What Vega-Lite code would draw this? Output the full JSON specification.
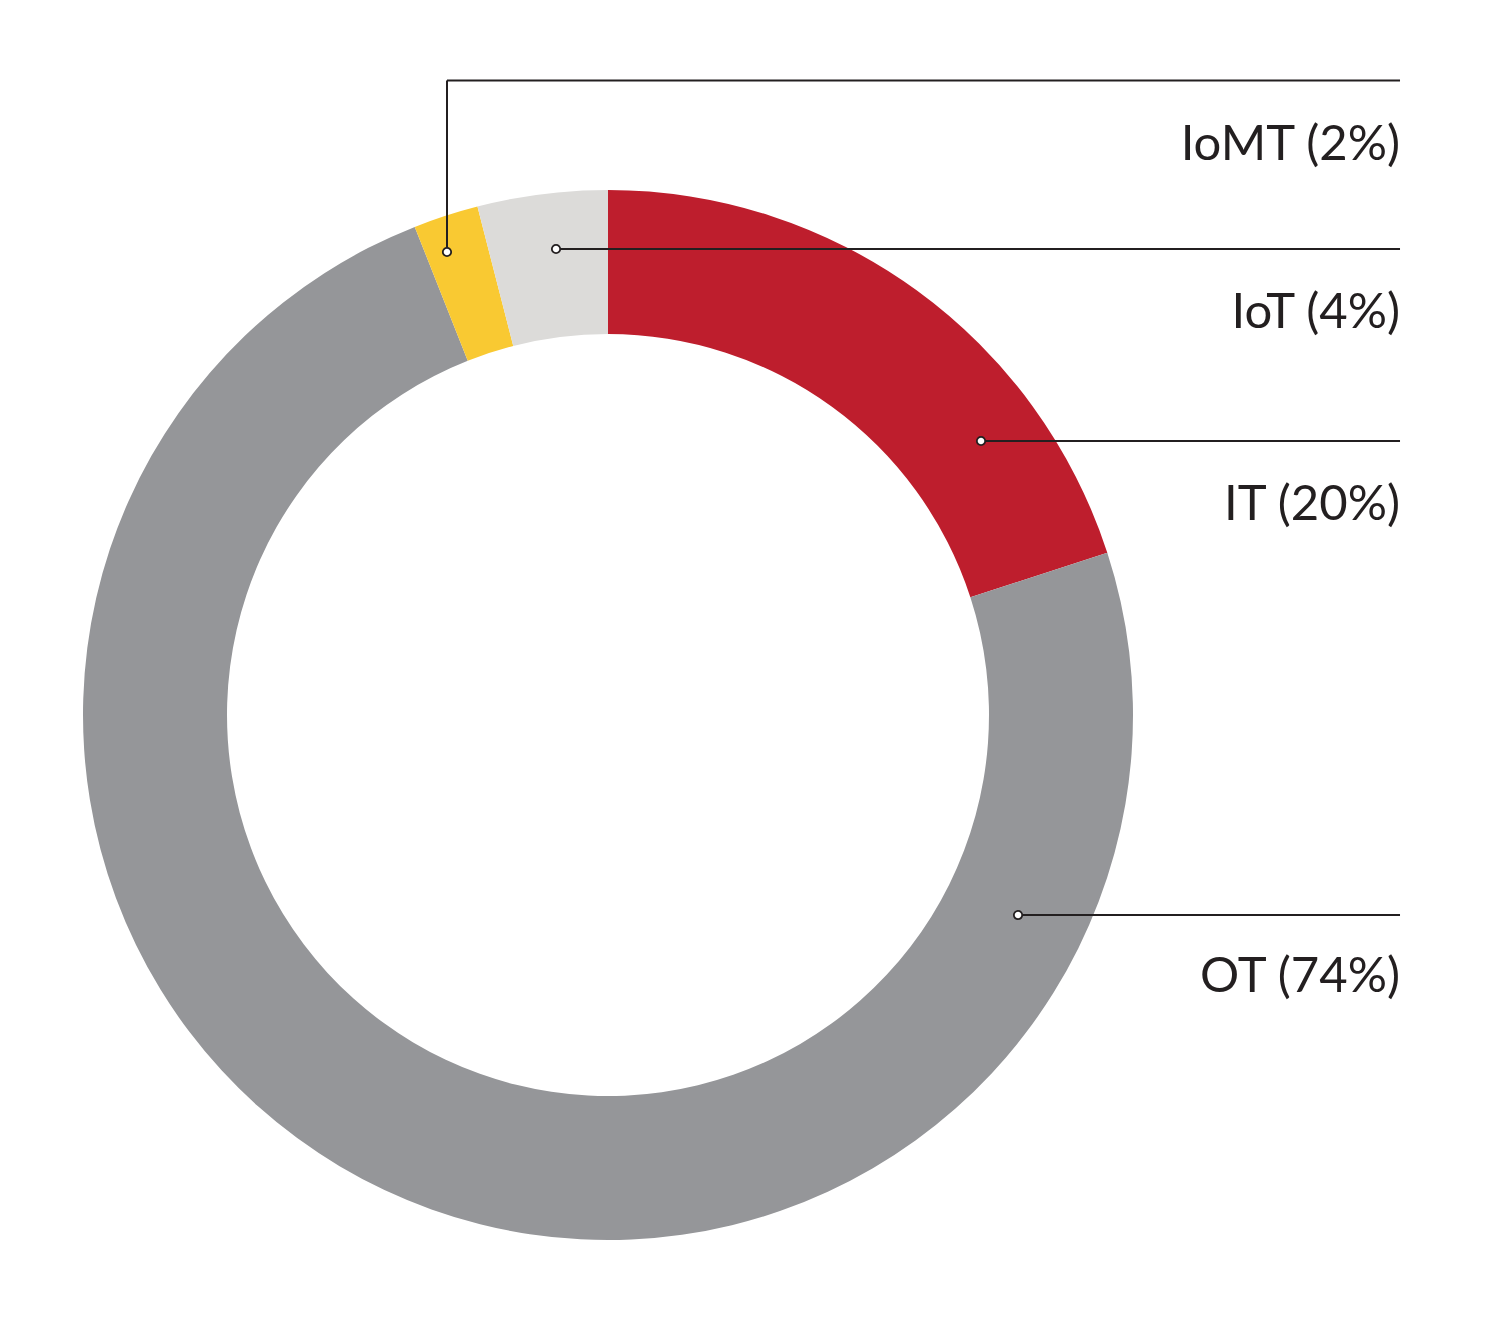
{
  "$schema": "https://vega.github.io/schema/vega-lite/v6.json",
  "width": 1490,
  "height": 1332,
  "autosize": {"type": "none"},
  "padding": 0,
  "background": "#ffffff",
  "config": {"view": {"stroke": null}},
  "datasets": {
    "slices": [
      {"segment": "IT", "share": 20, "rank": 1},
      {"segment": "OT", "share": 74, "rank": 2},
      {"segment": "IoMT", "share": 2, "rank": 3},
      {"segment": "IoT", "share": 4, "rank": 4}
    ],
    "leaders": [
      {"segment": "IoMT", "x": -0.3067, "y": 0.8819, "x2": -0.3067, "y2": 1.2086},
      {"segment": "IoMT", "x": -0.3067, "y": 1.2086, "x2": 1.5086, "y2": 1.2086},
      {"segment": "IoT", "x": -0.099, "y": 0.8876, "x2": 1.5086, "y2": 0.8876},
      {"segment": "IT", "x": 0.7105, "y": 0.5219, "x2": 1.5086, "y2": 0.5219},
      {"segment": "OT", "x": 0.781, "y": -0.381, "x2": 1.5086, "y2": -0.381}
    ],
    "anchors": [
      {"segment": "IoMT", "x": -0.3067, "y": 0.8819},
      {"segment": "IoT", "x": -0.099, "y": 0.8876},
      {"segment": "IT", "x": 0.7105, "y": 0.5219},
      {"segment": "OT", "x": 0.781, "y": -0.381}
    ],
    "labels": [
      {"label": "IoMT (2%)", "x": 1.5086, "y": 1.0571},
      {"label": "IoT (4%)", "x": 1.5086, "y": 0.7371},
      {"label": "IT (20%)", "x": 1.5086, "y": 0.3714},
      {"label": "OT (74%)", "x": 1.5086, "y": -0.5276}
    ]
  },
  "layer": [
    {
      "data": {"name": "slices"},
      "mark": {"type": "arc", "radius": 525, "radius2": 381, "stroke": null},
      "encoding": {
        "x": {"datum": 0, "type": "quantitative", "scale": {"domain": [-1.1581, 1.68], "nice": false, "zero": false}, "axis": null},
        "y": {"datum": 0, "type": "quantitative", "scale": {"domain": [-1.1752, 1.3619], "nice": false, "zero": false}, "axis": null},
        "theta": {"field": "share", "type": "quantitative", "stack": true},
        "order": {"field": "rank", "type": "quantitative"},
        "color": {
          "field": "segment",
          "type": "nominal",
          "scale": {"domain": ["IT", "OT", "IoMT", "IoT"], "range": ["#BE1E2D", "#959699", "#F9C932", "#DCDBD9"]},
          "legend": null
        }
      }
    },
    {
      "data": {"name": "leaders"},
      "mark": {"type": "rule", "color": "#231F20", "strokeWidth": 2},
      "encoding": {
        "x": {"field": "x", "type": "quantitative"},
        "y": {"field": "y", "type": "quantitative"},
        "x2": {"field": "x2"},
        "y2": {"field": "y2"}
      }
    },
    {
      "data": {"name": "anchors"},
      "mark": {"type": "point", "shape": "circle", "size": 70, "filled": false, "fill": "#ffffff", "fillOpacity": 1, "stroke": "#231F20", "strokeWidth": 1.8, "opacity": 1},
      "encoding": {
        "x": {"field": "x", "type": "quantitative"},
        "y": {"field": "y", "type": "quantitative"}
      }
    },
    {
      "data": {"name": "labels"},
      "mark": {"type": "text", "align": "right", "baseline": "alphabetic", "font": "Lato", "fontWeight": 400, "fontSize": 49, "color": "#231F20"},
      "encoding": {
        "x": {"field": "x", "type": "quantitative"},
        "y": {"field": "y", "type": "quantitative"},
        "text": {"field": "label"}
      }
    }
  ]
}
